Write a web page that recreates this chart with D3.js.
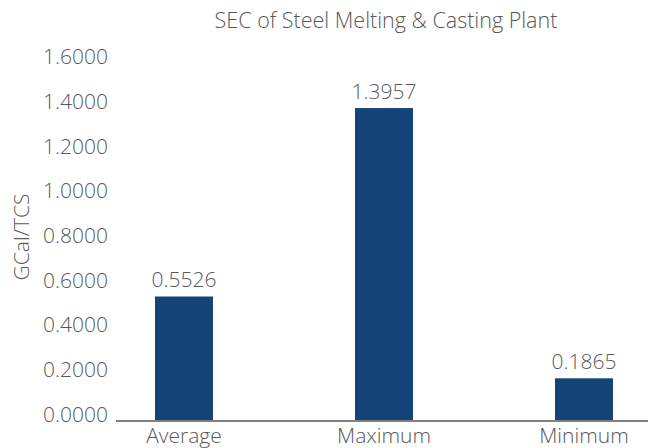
<!DOCTYPE html>
<html>
<head>
<meta charset="utf-8">
<script src="https://cdn.jsdelivr.net/npm/d3@7"></script>
<style>
  html, body { margin: 0; padding: 0; background: #fff; }
  svg { display: block; font-family: "Open Sans", "Noto Sans", sans-serif; }
</style>
</head>
<body>
<svg id="chart" width="648" height="448"></svg>
<script>
// Specific energy consumption of the steel melting & casting plant
const categories = ["Average", "Maximum", "Minimum"];
const values = [0.5526, 1.3957, 0.1865];
const yTicks = [0, 0.2, 0.4, 0.6, 0.8, 1.0, 1.2, 1.4, 1.6];

const svg = d3.select("#chart");
const textColor = "#595959";
const barColor = "#144378";

const x = d3.scaleBand()
  .domain(categories)
  .range([116, 652])
  .paddingInner(0.71)
  .paddingOuter(0.195);

const y = d3.scaleLinear()
  .domain([0, 1.6])
  .range([420, 62.4]);

// Title
svg.append("text")
  .attr("x", 386)
  .attr("y", 28)
  .attr("text-anchor", "middle")
  .attr("fill", textColor)
  .style("font-size", "21.5px")
  .style("font-weight", 300)
  .text("SEC of Steel Melting & Casting Plant");

// Y axis labels (no axis line, no ticks)
const yAxis = d3.axisLeft(y)
  .tickValues(yTicks)
  .tickFormat(d3.format(".4f"))
  .tickSize(0)
  .tickPadding(0);

const gy = svg.append("g")
  .attr("transform", "translate(108,0)")
  .call(yAxis);
gy.select(".domain").remove();
gy.selectAll("text")
  .attr("fill", textColor)
  .attr("dy", "0.32em")
  .attr("y", -5.5)
  .style("font-size", "21px")
  .style("font-weight", 300)
  .style("font-family", "'Open Sans', 'Noto Sans', sans-serif");

// Y axis title
svg.append("text")
  .attr("transform", "translate(22,237) rotate(-90)")
  .attr("text-anchor", "middle")
  .attr("dy", "0.35em")
  .attr("fill", textColor)
  .style("font-size", "21px")
  .style("font-weight", 300)
  .text("GCal/TCS");

// Bars
svg.append("g")
  .selectAll("rect")
  .data(values)
  .join("rect")
  .attr("x", (d, i) => x(categories[i]))
  .attr("width", x.bandwidth())
  .attr("y", d => y(d))
  .attr("height", d => y(0) - y(d))
  .attr("fill", barColor);

// Value labels
svg.append("g")
  .selectAll("text")
  .data(values)
  .join("text")
  .attr("x", (d, i) => x(categories[i]) + x.bandwidth() / 2)
  .attr("y", d => y(d) - 9)
  .attr("text-anchor", "middle")
  .attr("fill", textColor)
  .style("font-size", "21px")
  .style("font-weight", 300)
  .text(d => d.toFixed(4));

// X axis
const xAxis = d3.axisBottom(x).tickSize(0).tickPadding(0);
const gx = svg.append("g")
  .attr("transform", "translate(0,421)")
  .call(xAxis);
gx.select(".domain")
  .attr("d", "M116,0H652")
  .attr("stroke", "#7f7f7f")
  .attr("stroke-width", 2);
gx.selectAll("text")
  .attr("fill", textColor)
  .attr("dy", "0")
  .attr("y", 22)
  .style("font-size", "21px")
  .style("font-weight", 300)
  .style("font-family", "'Open Sans', 'Noto Sans', sans-serif");
</script>
</body>
</html>
